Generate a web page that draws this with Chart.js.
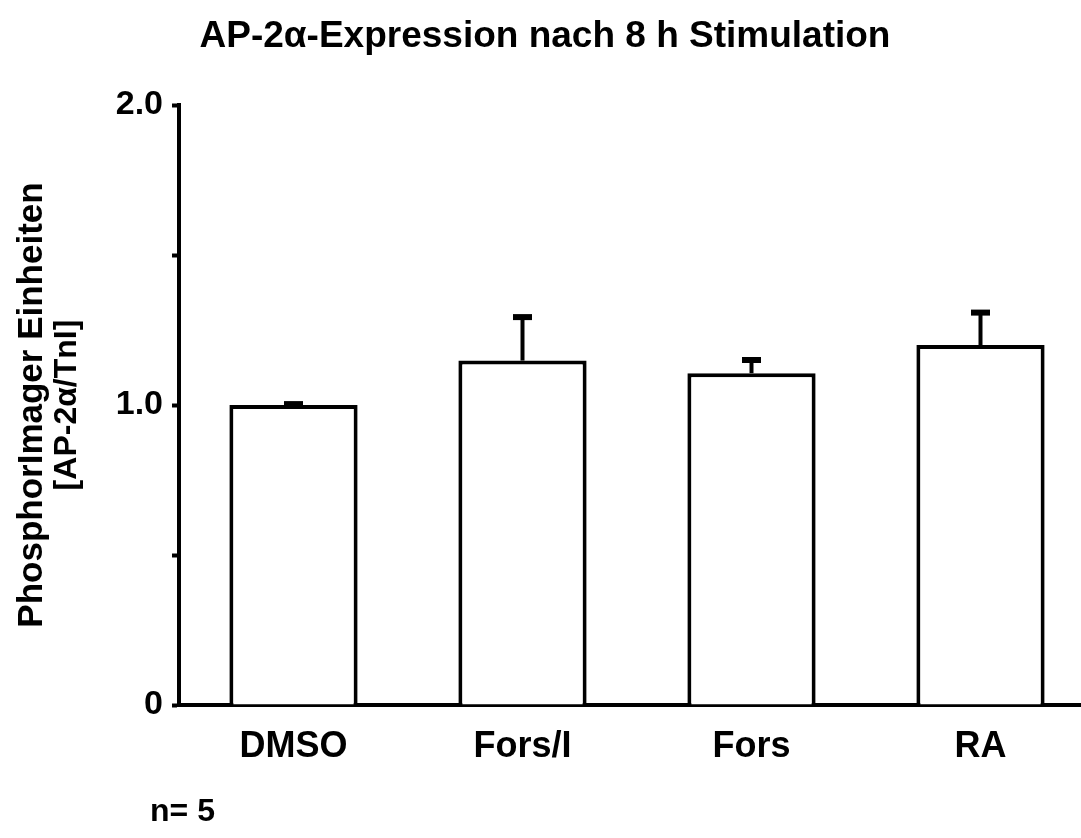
<!DOCTYPE html>
<html>
<head>
<meta charset="utf-8">
<script src="https://cdn.jsdelivr.net/npm/chart.js@4.4.1/dist/chart.umd.min.js"></script>
<style>
  html, body { margin: 0; padding: 0; background: #fff; overflow: hidden; }
  #wrap { width: 1100px; height: 838px; }
</style>
</head>
<body>
<div id="wrap"><canvas id="c" width="1100" height="838"></canvas></div>
<script>
const titleText = 'AP-2\u03B1-Expression nach 8 h Stimulation';
const yTitleLines = ['PhosphorImager Einheiten', '[AP-2\u03B1/TnI]'];
const noteText = 'n= 5';
const categories = ['DMSO', 'Fors/I', 'Fors', 'RA'];
const means = [1.0, 1.148, 1.106, 1.2];
const sems = [0.003, 0.145, 0.044, 0.108];
const yTickValues = [0, 0.5, 1, 1.5, 2];
const yTickLabels = ['0', '', '1.0', '', '2.0'];

const FONT = "'Liberation Sans', Arial, Helvetica, sans-serif";

const errorBars = {
  id: 'errorBars',
  afterDatasetsDraw(chart) {
    const meta = chart.getDatasetMeta(0);
    const y = chart.scales.y;
    const ctx = chart.ctx;
    ctx.save();
    ctx.strokeStyle = '#000';
    ctx.fillStyle = '#000';
    meta.data.forEach((bar, i) => {
      const top = y.getPixelForValue(means[i] + sems[i]);
      const base = y.getPixelForValue(means[i]);
      ctx.lineWidth = 4;
      ctx.beginPath();
      ctx.moveTo(bar.x, base);
      ctx.lineTo(bar.x, top);
      ctx.stroke();
      ctx.fillRect(bar.x - 9.5, top - 3, 19, 6);
    });
    ctx.restore();
  }
};

const texts = {
  id: 'texts',
  afterDraw(chart) {
    const ctx = chart.ctx;
    const y = chart.scales.y;
    const midY = (y.top + y.bottom) / 2;
    ctx.save();
    ctx.fillStyle = '#000';
    ctx.textAlign = 'center';
    ctx.textBaseline = 'middle';
    ctx.font = 'bold 37px ' + FONT;
    ctx.fillText(titleText, 545, 37);
    // y-axis title, two lines rotated
    ctx.save();
    ctx.translate(32, midY);
    ctx.rotate(-Math.PI / 2);
    ctx.font = 'bold 35px ' + FONT;
    ctx.fillText(yTitleLines[0], 0, 0);
    ctx.restore();
    ctx.save();
    ctx.translate(67, midY);
    ctx.rotate(-Math.PI / 2);
    ctx.font = 'bold 32px ' + FONT;
    ctx.fillText(yTitleLines[1], 0, 0);
    ctx.restore();
    ctx.font = 'bold 32px ' + FONT;
    ctx.textAlign = 'left';
    ctx.fillText(noteText, 150, 812);
    ctx.restore();
  }
};

new Chart(document.getElementById('c'), {
  type: 'bar',
  data: {
    labels: categories,
    datasets: [{
      data: means,
      backgroundColor: '#ffffff',
      borderColor: '#000000',
      borderWidth: 4,
      borderSkipped: 'bottom',
      categoryPercentage: 1.0,
      barPercentage: 0.56
    }]
  },
  options: {
    responsive: false,
    animation: false,
    devicePixelRatio: 1,
    layout: { padding: { top: 105, left: 0, right: 5, bottom: 0 } },
    plugins: { legend: { display: false }, tooltip: { enabled: false }, title: { display: false } },
    scales: {
      x: {
        z: 1,
        grid: { display: false, drawTicks: false },
        border: { display: true, color: '#000', width: 4 },
        ticks: { color: '#000', font: { family: FONT, size: 36, weight: 'bold' }, padding: 20, maxRotation: 0 },
        afterFit(scale) { scale.height = 133; }
      },
      y: {
        min: 0, max: 2,
        afterBuildTicks(scale) { scale.ticks = yTickValues.map(v => ({ value: v })); },
        grid: { drawOnChartArea: false, drawTicks: true, tickLength: 7, tickWidth: 4, color: '#000' },
        border: { display: true, color: '#000', width: 4 },
        ticks: {
          color: '#000', font: { family: FONT, size: 34, weight: 'bold' }, padding: 9,
          callback(value) { return yTickLabels[yTickValues.indexOf(value)]; }
        },
        title: { display: false },
        afterFit(scale) { scale.width = 179; }
      }
    }
  },
  plugins: [errorBars, texts]
});
</script>
</body>
</html>
